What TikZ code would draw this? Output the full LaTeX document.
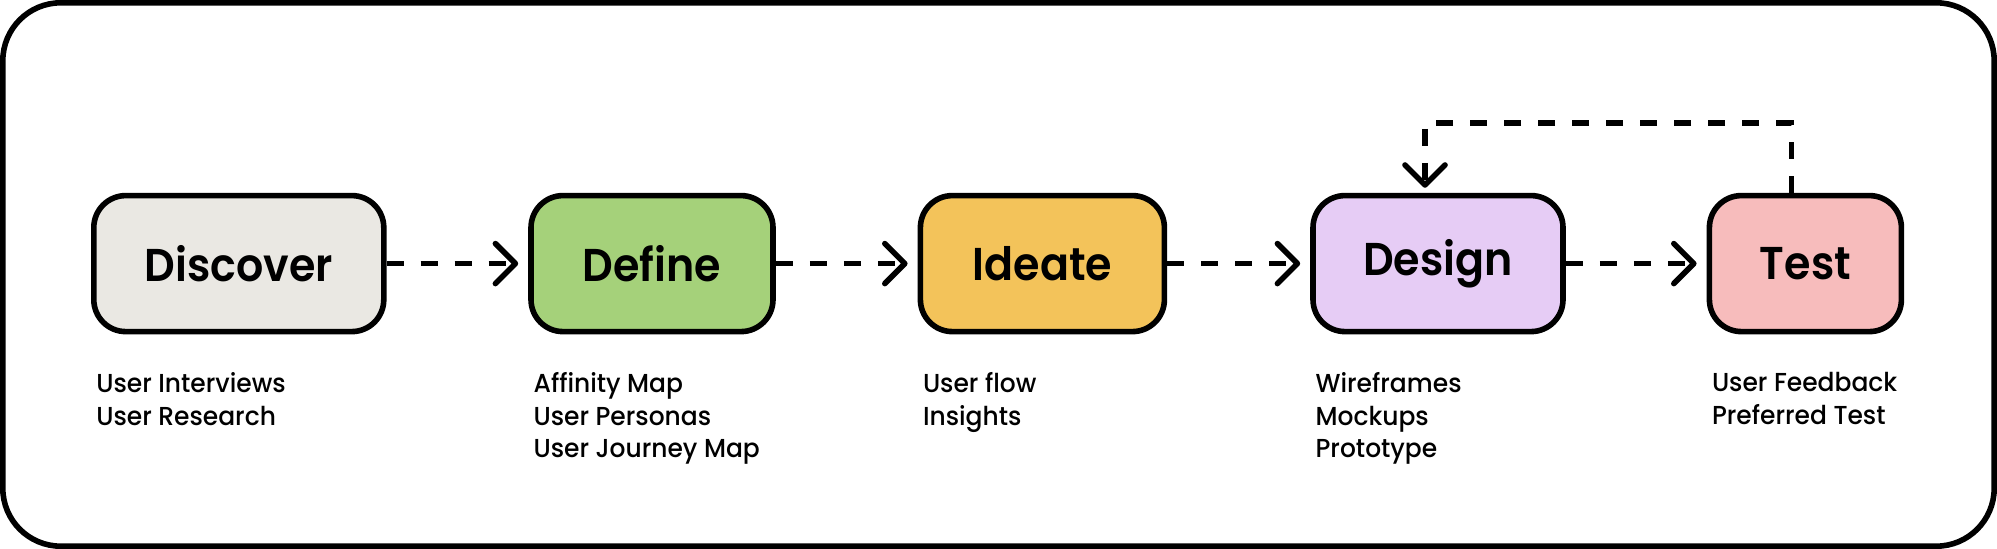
\documentclass[tikz,border=0pt]{standalone}
\usepackage{fontspec}
\setmainfont{Poppins}
\newfontfamily\stagefont{Poppins SemiBold}[FakeStretch=0.93]
\newfontfamily\notefont{Poppins Medium}[FakeStretch=0.96]
\usetikzlibrary{positioning, calc, arrows.meta}

\definecolor{discovergray}{HTML}{EAE8E3}
\definecolor{definegreen}{HTML}{A5D17A}
\definecolor{ideateyellow}{HTML}{F3C35A}
\definecolor{designlilac}{HTML}{E6CCF5}
\definecolor{testpink}{HTML}{F7BCBC}

\begin{document}
\begin{tikzpicture}[x=1pt, y=1pt,
    stage/.style={draw, line width=2.8pt, rounded corners=16pt, minimum height=68pt,
        font=\fontsize{23}{27}\stagefont},
    notes/.style={anchor=north west, align=left, inner sep=0pt,
        font=\fontsize{13}{16.4}\notefont},
    flow/.style={line width=2.8pt, dash pattern=on 8.5pt off 8.5pt,
        -{Straight Barb[length=10pt, width=20pt, round]}, shorten >=5pt}]
    \useasboundingbox (0,0) rectangle (998.5,-274.5);
    \draw[line width=2.8pt, rounded corners=29pt] (1.4,-1.4) rectangle (997.1,-273.1);

    \node[stage, fill=discovergray, minimum width=145pt] (discover) at (119.4,-131.8) {Discover};
    \node[stage, fill=definegreen, minimum width=121pt] (define) at (326.0,-131.8) {Define};
    \node[stage, fill=ideateyellow, minimum width=122pt] (ideate) at (521.2,-131.8) {Ideate};
    \node[stage, fill=designlilac, minimum width=125pt] (design) at (719.0,-131.8) {Design};
    \node[stage, fill=testpink, minimum width=96pt] (test) at (902.7,-131.8) {Test};

    \node[notes] (discovernotes) at ([xshift=2.5pt, yshift=-18.7pt]discover.south west) {User Interviews\\User Research};
    \node[notes] (definenotes) at ([xshift=2.5pt, yshift=-18.7pt]define.south west) {Affinity Map\\User Personas\\User Journey Map};
    \node[notes] (ideatenotes) at ([xshift=2.5pt, yshift=-18.7pt]ideate.south west) {User flow\\Insights};
    \node[notes] (designnotes) at ([xshift=2.5pt, yshift=-18.7pt]design.south west) {Wireframes\\Mockups\\Prototype};
    \node[notes] (testnotes) at ([xshift=2.5pt, yshift=-18.7pt]test.south west) {User Feedback\\Preferred Test};

    \draw[flow] (discover) -- (define);
    \draw[flow] (define) -- (ideate);
    \draw[flow] (ideate) -- (design);
    \draw[flow] (design) -- (test);

    % loop back from test to design
    \coordinate (loop) at (0,-61.5);
    \draw[flow, shorten >=2.5pt] ([xshift=-7pt]test.north) -- ([xshift=-7pt]test.north |- loop) -| ([xshift=-6.5pt]design.north);
\end{tikzpicture}
\end{document}
